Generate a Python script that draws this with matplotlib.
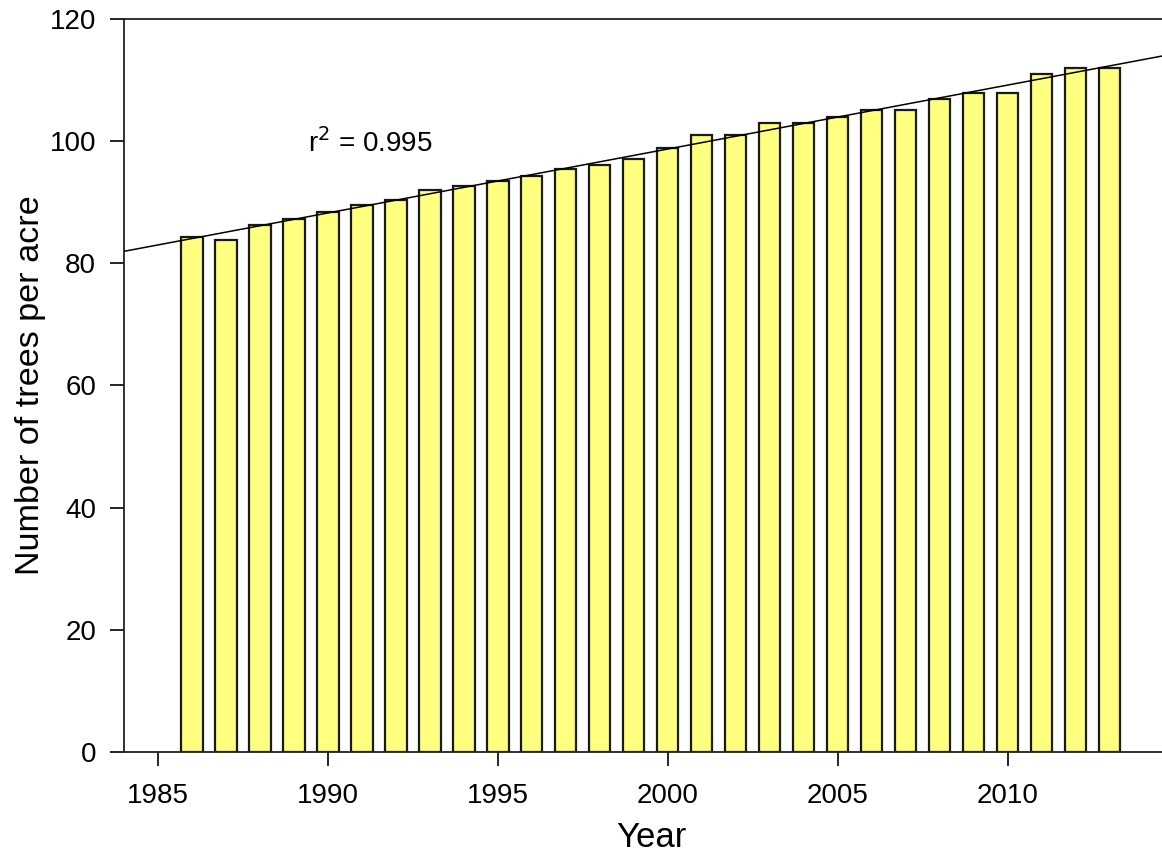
import numpy as np
import matplotlib.pyplot as plt

plt.rcParams['font.family'] = ['Liberation Sans', 'DejaVu Sans']

years = np.arange(1986, 2014)
trees = [84.3, 83.8, 86.2, 87.2, 88.4, 89.5, 90.4, 92.0, 92.6, 93.5,
         94.3, 95.4, 96.1, 97.1, 98.9, 101.0, 101.0, 103.0, 103.0, 104.0,
         105.1, 105.1, 106.9, 107.9, 107.9, 111.0, 111.9, 111.9]
r2_label = "r$^2$ = 0.995"

# linear trend through the yearly values
slope, icept = np.polyfit(years, trees, 1)
xfit = np.array([1984, 2015])

fig = plt.figure(figsize=(11.62, 8.55), dpi=100)
ax = fig.add_axes([0.1067, 0.1205, 0.907, 0.8573])

ax.bar(years, trees, width=0.62, color='#ffff80', edgecolor='#1a1a1a',
       linewidth=1.6, zorder=2)
ax.plot(xfit, slope * xfit + icept, color='black', lw=1.1, zorder=3)

ax.text(1989.4, 98.2, r2_label, fontsize=20)

ax.set_xlim(1984, 2015)
ax.set_ylim(0, 120)
ax.set_xticks([1985, 1990, 1995, 2000, 2005, 2010])
ax.set_yticks(range(0, 121, 20))
ax.tick_params(labelsize=20, length=10, width=1.2, direction='out')
ax.tick_params(axis='x', pad=12)
ax.tick_params(axis='y', pad=10)

for s in ax.spines.values():
    s.set_linewidth(1.3)
    s.set_color('#222222')
ax.spines['right'].set_visible(False)

ax.set_xlabel('Year', fontsize=25, labelpad=9)
ax.set_ylabel('Number of trees per acre', fontsize=24.6, labelpad=3)

fig.savefig('out.png', dpi=100)
